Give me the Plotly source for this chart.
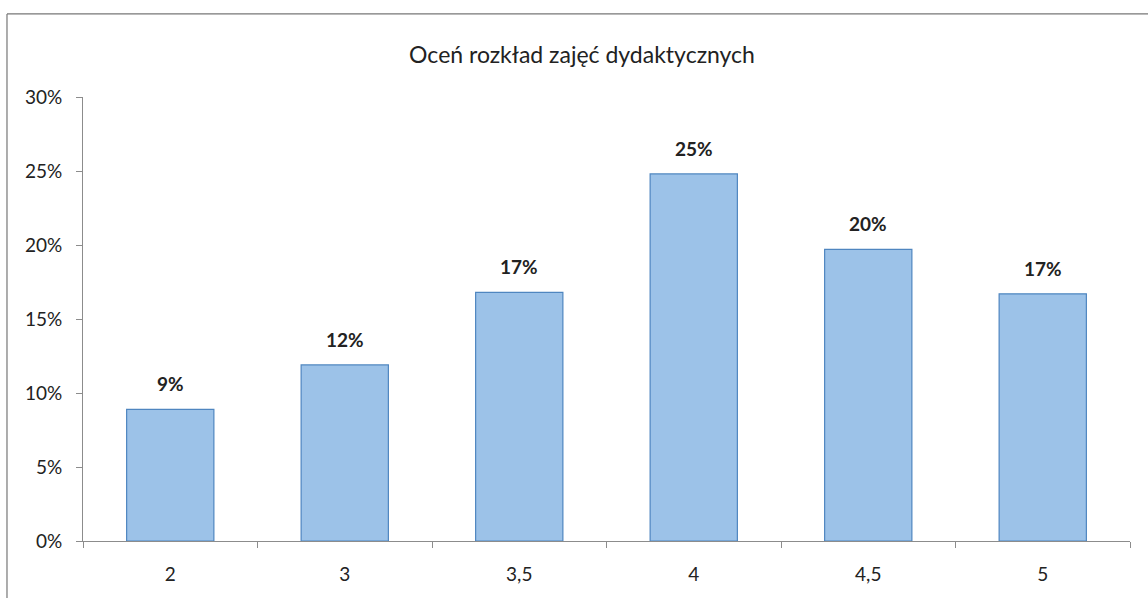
import plotly.graph_objects as go

categories = ["2", "3", "3,5", "4", "4,5", "5"]
values = [0.089, 0.119, 0.168, 0.248, 0.197, 0.167]
title_text = "Oceń rozkład zajęć dydaktycznych"
y_tickvals = [0, 0.05, 0.10, 0.15, 0.20, 0.25, 0.30]
y_ticktext = ["0%", "5%", "10%", "15%", "20%", "25%", "30%"]

FONT = "Lato, 'Open Sans', sans-serif"

fig = go.Figure()
fig.add_trace(go.Bar(
    x=categories,
    y=values,
    marker=dict(color="#9cc2e8", line=dict(color="#4f86c0", width=1.2)),
    hoverinfo="skip",
))

# category axis positions are indices 0..n-1
for i, v in enumerate(values):
    fig.add_annotation(x=i, y=v, text=f"{round(v*100)}%", showarrow=False,
                       yanchor="bottom", xanchor="center", yshift=12,
                       font=dict(family=FONT, size=19, color="#222222", weight="bold"))

fig.update_layout(
    width=1148, height=598,
    margin=dict(l=83, r=18, t=97, b=57),
    paper_bgcolor="white", plot_bgcolor="white",
    bargap=0.5,
    showlegend=False,
    title=dict(text=title_text, x=0.507, xanchor="center", y=0.908, yanchor="middle",
               font=dict(family=FONT, size=23, color="#222222")),
    xaxis=dict(type="category", showline=True, linecolor="#8c8c8c", linewidth=1,
               ticks="outside", tickson="boundaries", ticklen=6, tickcolor="#8c8c8c",
               ticklabelstandoff=16,
               tickfont=dict(family=FONT, size=19, color="#222222"), showgrid=False),
    yaxis=dict(range=[0, 0.30], tickvals=y_tickvals, ticktext=y_ticktext,
               showline=True, linecolor="#8c8c8c", linewidth=1,
               ticks="outside", ticklen=6, tickcolor="#8c8c8c",
               ticklabelstandoff=10,
               tickfont=dict(family=FONT, size=19, color="#222222"),
               showgrid=False, zeroline=False),
    shapes=[
        dict(type="line", xref="paper", yref="paper", x0=-0.0726, x1=1.02, y0=1.187, y1=1.187,
             line=dict(color="#777777", width=1.2)),
        dict(type="line", xref="paper", yref="paper", x0=-0.0726, x1=-0.0726, y0=1.187, y1=-0.13,
             line=dict(color="#777777", width=1.2)),
    ],
)

fig.write_html("out.html", config={"displayModeBar": False},
               post_script="document.body.style.margin='0';")
